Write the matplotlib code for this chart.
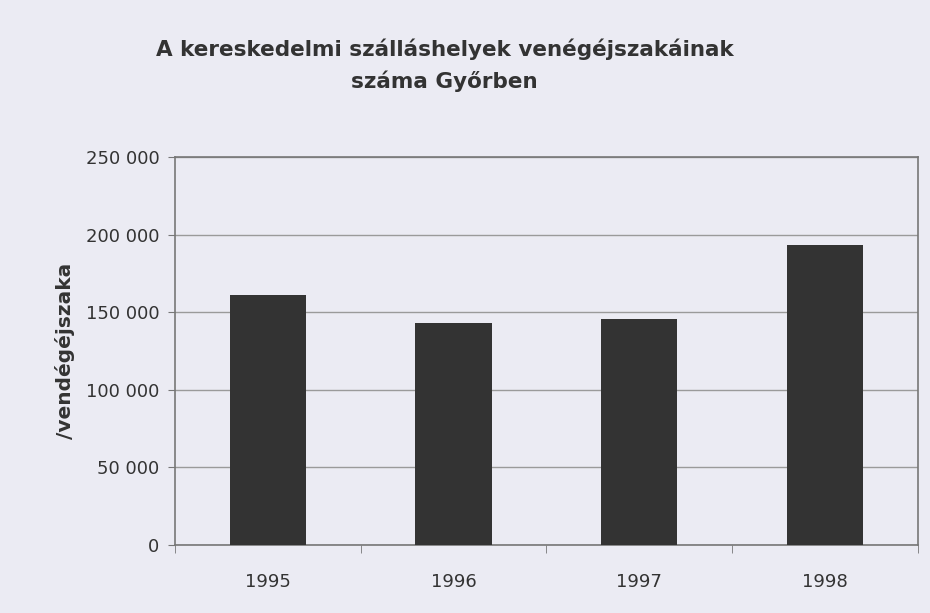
import matplotlib
matplotlib.use("Agg")
import matplotlib.pyplot as plt
import numpy as np

years = ["1995", "1996", "1997", "1998"]
values = [161000, 143000, 145500, 193000]
yticks = [0, 50000, 100000, 150000, 200000, 250000]
ytick_labels = ["0", "50 000", "100 000", "150 000", "200 000", "250 000"]
title = "A kereskedelmi szálláshelyek venégéjszakáinak\nszáma Győrben"
ylabel = "/vendégéjszaka"

bg = "#ebebf3"
fig = plt.figure(figsize=(9.3, 6.13), dpi=100, facecolor=bg)
ax = fig.add_axes([0.188, 0.111, 0.799, 0.633], facecolor=bg)

x = np.arange(len(years))
ax.bar(x, values, width=0.41, color="#333333", zorder=3)
ax.set_xlim(-0.5, len(years) - 0.5)
ax.set_ylim(0, 250000)
ax.set_yticks(yticks)
ax.set_yticklabels(ytick_labels, fontsize=13, color="#333333")
ax.yaxis.grid(True, color="#9a9a9a", linewidth=1.0, zorder=0)
ax.set_xticks(x)
ax.set_xticklabels(years, fontsize=13, color="#333333")
ax.tick_params(axis="x", length=0, pad=20)
ax.set_xticks(np.arange(len(years) + 1) - 0.5, minor=True)
ax.tick_params(axis="x", which="minor", length=6, color="#777777", direction="out")
ax.tick_params(axis="y", length=5, color="#777777", pad=6)
for s in ax.spines.values():
    s.set_color("#777777")
    s.set_linewidth(1.2)

ax.set_ylabel(ylabel, fontsize=14.5, fontweight="bold", color="#333333", labelpad=8)
fig.text(0.478, 0.894, title, ha="center", va="center", fontsize=15.5,
         fontweight="bold", color="#333333", linespacing=1.6)

fig.savefig("out.png", dpi=100, facecolor=bg)
